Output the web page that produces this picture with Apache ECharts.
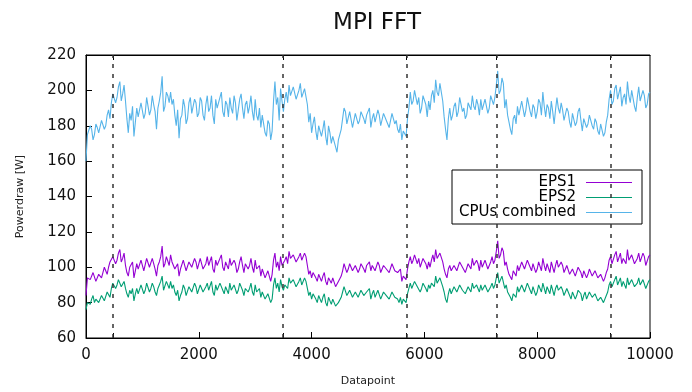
<!DOCTYPE html>
<html>
<head>
<meta charset="utf-8">
<script src="https://cdn.jsdelivr.net/npm/echarts@6/dist/echarts.min.js"></script>
<style>
  html, body { margin: 0; padding: 0; background: #fff; }
  #container { width: 692px; height: 392px; }
</style>
</head>
<body>
<div id="container"></div>
<script>
// sampled every 25 datapoints (0 .. 10000)
var step = 25;

var cpuValues = [
  160, 175, 176, 180, 178, 172, 175, 181, 179, 176, 177, 183, 182, 178, 180, 186, 189, 184, 193, 198,
  199, 193, 196, 202, 205, 194, 198, 203, 194, 184, 176, 187, 183, 191, 174, 182, 190, 185, 186, 193,
  193, 184, 187, 196, 195, 186, 189, 197, 192, 188, 178, 190, 194, 199, 208, 188, 191, 199, 197, 193,
  199, 192, 195, 186, 180, 189, 173, 184, 186, 195, 191, 181, 184, 193, 196, 187, 188, 195, 193, 185,
  187, 196, 194, 186, 183, 192, 197, 188, 190, 197, 186, 181, 195, 190, 189, 196, 199, 188, 185, 194,
  192, 185, 196, 190, 187, 197, 193, 183, 189, 195, 198, 190, 184, 192, 194, 187, 191, 197, 188, 183,
  195, 186, 183, 190, 179, 186, 185, 176, 174, 183, 181, 172, 177, 194, 205, 192, 196, 183, 201, 194,
  188, 195, 199, 193, 203, 197, 196, 202, 201, 195, 194, 200, 204, 196, 197, 201, 200, 192, 182, 187,
  176, 181, 185, 177, 172, 180, 181, 174, 178, 183, 174, 169, 180, 176, 170, 174, 175, 168, 165, 172,
  171, 178, 184, 190, 188, 181, 182, 188, 187, 179, 180, 187, 186, 181, 183, 188, 189, 184, 181, 186,
  185, 190, 179, 184, 187, 182, 183, 189, 186, 180, 181, 187, 188, 183, 184, 179, 180, 187, 186, 181,
  183, 178, 176, 181, 172, 177, 178, 174, 184, 190, 199, 192, 194, 200, 201, 192, 196, 187, 190, 197,
  198, 192, 185, 194, 189, 197, 200, 193, 206, 199, 197, 204, 203, 194, 185, 178, 172, 184, 190, 183,
  186, 191, 193, 185, 188, 196, 195, 188, 190, 184, 186, 193, 194, 189, 197, 191, 189, 195, 192, 186,
  195, 189, 188, 195, 194, 187, 190, 197, 198, 192, 196, 203, 211, 198, 200, 207, 204, 190, 195, 186,
  182, 178, 175, 184, 186, 181, 191, 186, 187, 194, 193, 185, 189, 196, 195, 188, 185, 192, 190, 184,
  188, 195, 193, 186, 199, 191, 185, 192, 190, 184, 194, 188, 181, 189, 196, 190, 187, 193, 189, 183,
  184, 190, 188, 182, 179, 187, 186, 180, 182, 188, 190, 183, 177, 184, 185, 179, 181, 186, 187, 180,
  178, 184, 182, 177, 175, 181, 180, 174, 176, 182, 186, 195, 200, 192, 194, 201, 203, 195, 196, 202,
  191, 196, 198, 192, 205, 197, 193, 200, 199, 191, 188, 196, 202, 194, 195, 200, 197, 190, 192, 198, 199
];

var eps1Values = [
  84, 94, 95, 93, 94, 97, 96, 92, 93, 96, 95, 94, 97, 100, 99, 96, 100, 103, 102, 106,
  106, 102, 104, 108, 110, 103, 105, 108, 101, 97, 95, 100, 99, 103, 94, 98, 102, 99, 100, 104,
  103, 98, 99, 105, 104, 100, 101, 105, 102, 99, 95, 101, 103, 106, 112, 100, 102, 106, 105, 101,
  107, 103, 104, 99, 98, 102, 95, 99, 100, 104, 103, 98, 99, 103, 104, 100, 101, 105, 103, 99,
  100, 105, 104, 99, 98, 102, 106, 101, 102, 106, 99, 97, 104, 101, 101, 105, 107, 100, 98, 103,
  103, 99, 105, 101, 100, 104, 102, 97, 99, 103, 106, 101, 97, 102, 103, 99, 101, 105, 100, 97,
  104, 99, 98, 101, 95, 99, 99, 94, 93, 98, 97, 92, 96, 104, 108, 100, 103, 98, 106, 101,
  100, 104, 106, 102, 109, 105, 104, 107, 107, 103, 103, 106, 108, 104, 105, 108, 106, 101, 96, 98,
  94, 97, 98, 94, 92, 96, 96, 92, 95, 97, 92, 90, 94, 93, 91, 94, 93, 89, 88, 92,
  91, 95, 98, 102, 101, 97, 99, 102, 102, 98, 98, 101, 101, 97, 99, 102, 102, 99, 97, 101,
  100, 103, 98, 101, 102, 98, 99, 103, 101, 97, 97, 101, 102, 99, 100, 97, 98, 102, 101, 98,
  99, 97, 96, 99, 92, 95, 95, 93, 99, 103, 106, 102, 104, 107, 107, 102, 105, 100, 101, 105,
  106, 102, 99, 103, 100, 104, 107, 103, 110, 105, 104, 108, 108, 103, 99, 96, 94, 99, 101, 98,
  98, 101, 102, 98, 99, 103, 104, 100, 101, 97, 98, 102, 103, 99, 105, 101, 100, 104, 102, 98,
  104, 100, 100, 104, 103, 99, 99, 103, 106, 102, 104, 109, 115, 105, 107, 111, 109, 101, 103, 99,
  96, 95, 93, 98, 98, 95, 101, 98, 99, 103, 103, 99, 100, 104, 104, 100, 98, 102, 101, 97,
  99, 103, 102, 98, 105, 101, 98, 102, 101, 97, 103, 100, 97, 101, 104, 100, 100, 103, 101, 97,
  97, 101, 100, 96, 95, 99, 99, 95, 96, 100, 101, 97, 94, 98, 98, 94, 96, 99, 99, 95,
  95, 98, 97, 94, 93, 96, 96, 92, 94, 97, 99, 104, 106, 102, 103, 107, 109, 103, 104, 108,
  102, 105, 106, 102, 110, 104, 103, 107, 107, 102, 101, 105, 108, 103, 104, 108, 106, 101, 102, 106, 107
];

var eps2Values = [
  76, 80, 81, 79, 82, 84, 80, 82, 83, 80, 81, 84, 84, 81, 82, 86, 86, 83, 88, 91,
  91, 88, 90, 93, 94, 89, 90, 92, 88, 85, 83, 87, 85, 88, 81, 85, 88, 85, 86, 90,
  89, 85, 87, 91, 90, 86, 88, 91, 89, 86, 84, 88, 90, 92, 95, 87, 88, 92, 91, 88,
  92, 88, 90, 86, 84, 87, 81, 84, 86, 90, 88, 84, 85, 89, 90, 86, 87, 91, 89, 85,
  86, 90, 90, 86, 85, 89, 91, 87, 88, 92, 86, 84, 90, 87, 87, 91, 92, 87, 85, 89,
  88, 85, 91, 87, 86, 90, 89, 85, 87, 91, 92, 87, 84, 88, 89, 86, 88, 91, 86, 84,
  90, 86, 85, 88, 83, 86, 86, 82, 81, 85, 84, 80, 82, 90, 94, 88, 91, 86, 93, 89,
  87, 90, 91, 88, 94, 91, 90, 93, 93, 89, 89, 92, 94, 90, 91, 94, 92, 88, 84, 86,
  82, 85, 86, 82, 80, 84, 84, 80, 83, 85, 80, 78, 83, 81, 79, 82, 82, 78, 77, 80,
  80, 83, 86, 89, 88, 84, 84, 87, 87, 83, 83, 86, 86, 83, 84, 87, 87, 84, 83, 86,
  85, 88, 82, 85, 87, 83, 84, 87, 86, 82, 83, 86, 87, 84, 85, 82, 82, 86, 86, 83,
  84, 82, 80, 83, 79, 82, 82, 80, 85, 88, 91, 88, 89, 92, 93, 89, 90, 86, 88, 91,
  91, 88, 86, 90, 88, 91, 92, 89, 95, 91, 90, 94, 93, 89, 86, 82, 80, 85, 88, 85,
  86, 89, 89, 86, 87, 90, 91, 87, 88, 85, 85, 89, 89, 86, 91, 88, 87, 90, 89, 86,
  90, 87, 87, 90, 89, 86, 86, 89, 91, 88, 90, 94, 97, 91, 92, 95, 94, 88, 90, 86,
  85, 83, 81, 85, 86, 83, 89, 86, 86, 90, 90, 86, 87, 91, 91, 87, 85, 89, 88, 84,
  86, 90, 89, 86, 91, 88, 85, 89, 88, 85, 90, 87, 84, 88, 90, 87, 86, 89, 87, 84,
  85, 88, 87, 84, 82, 86, 86, 82, 84, 87, 88, 85, 81, 84, 86, 82, 83, 86, 86, 83,
  82, 85, 84, 81, 80, 83, 83, 80, 81, 84, 86, 90, 92, 89, 90, 93, 95, 90, 91, 94,
  89, 92, 92, 88, 94, 90, 89, 93, 93, 89, 88, 91, 94, 90, 90, 93, 92, 88, 89, 92, 93
];

// phase boundaries (dashed lines)
var eventMarks = [480, 3490, 5680, 7280, 9300];

var seriesNames = ['EPS1', 'EPS2', 'CPUs combined'];
var seriesColors = ['#9400d3', '#009e73', '#56b4e9'];

var font = 'DejaVu Sans';

function toPairs(values) {
    return values.map(function (v, i) { return [i * step, v]; });
}

var myChart = echarts.init(document.getElementById('container'));

var option = {
    animation: false,
    backgroundColor: '#fff',
    title: {
        text: 'MPI FFT',
        left: 372,
        textAlign: 'center',
        top: 7,
        textStyle: { fontFamily: font, fontSize: 23, fontWeight: 'normal', color: '#111' }
    },
    grid: {
        left: 86, right: 42, top: 55, bottom: 53,
        show: true, borderColor: '#000', borderWidth: 1
    },
    legend: {
        data: seriesNames,
        orient: 'vertical',
        align: 'right',
        left: 452,
        top: 170,
        padding: [5, 10, 4, 6],
        itemGap: 0,
        itemWidth: 46,
        itemHeight: 1,
        icon: 'rect',
        backgroundColor: '#fff',
        borderColor: '#000',
        borderWidth: 1,
        borderRadius: 0,
        textStyle: {
            fontFamily: font, fontSize: 15, color: '#000',
            width: 118, align: 'right', lineHeight: 15, padding: [0, 5, 0, 0]
        }
    },
    xAxis: [
        {
            type: 'value', position: 'bottom',
            min: 0, max: 10000, interval: 2000,
            name: 'Datapoint', nameLocation: 'middle', nameGap: 38,
            nameTextStyle: { fontFamily: font, fontSize: 11, color: '#222' },
            axisLine: { lineStyle: { color: '#000', width: 1 } },
            axisTick: { inside: true, length: 6, lineStyle: { color: '#000' } },
            axisLabel: {
                fontFamily: font, fontSize: 15, color: '#111', margin: 10,
                formatter: function (v) { return String(v); }
            },
            splitLine: { show: false }
        },
        {
            type: 'value', position: 'top',
            min: 0, max: 10000,
            axisLine: { lineStyle: { color: '#000', width: 1 } },
            axisTick: { inside: true, length: 5, customValues: eventMarks, lineStyle: { color: '#000' } },
            axisLabel: { show: false },
            splitLine: { show: false }
        },
        {
            type: 'value', position: 'bottom',
            min: 0, max: 10000,
            axisLine: { show: false },
            axisTick: { inside: true, length: 5, customValues: eventMarks, lineStyle: { color: '#000' } },
            axisLabel: { show: false },
            splitLine: { show: false }
        }
    ],
    yAxis: {
        type: 'value',
        min: 60, max: 220, interval: 20,
        name: 'Powerdraw [W]', nameLocation: 'middle', nameGap: 60, nameRotate: 90,
        nameTextStyle: { fontFamily: font, fontSize: 11, color: '#222' },
        axisLine: { show: true, lineStyle: { color: '#000', width: 1 } },
        axisTick: { inside: true, length: 6, lineStyle: { color: '#000' } },
        axisLabel: { fontFamily: font, fontSize: 15, color: '#111', margin: 10 },
        splitLine: { show: false }
    },
    series: [
        {
            name: seriesNames[0], type: 'line', data: toPairs(eps1Values),
            showSymbol: false, symbol: 'none', color: seriesColors[0],
            lineStyle: { width: 1.1 }
        },
        {
            name: seriesNames[1], type: 'line', data: toPairs(eps2Values),
            showSymbol: false, symbol: 'none', color: seriesColors[1],
            lineStyle: { width: 1.1 }
        },
        {
            name: seriesNames[2], type: 'line', data: toPairs(cpuValues),
            showSymbol: false, symbol: 'none', color: seriesColors[2],
            lineStyle: { width: 1.1 },
            markLine: {
                silent: true, symbol: 'none',
                label: { show: false },
                lineStyle: { color: '#333', type: [4, 6], width: 1.5 },
                data: eventMarks.map(function (x) { return { xAxis: x }; })
            }
        }
    ]
};

myChart.setOption(option);
</script>
</body>
</html>
